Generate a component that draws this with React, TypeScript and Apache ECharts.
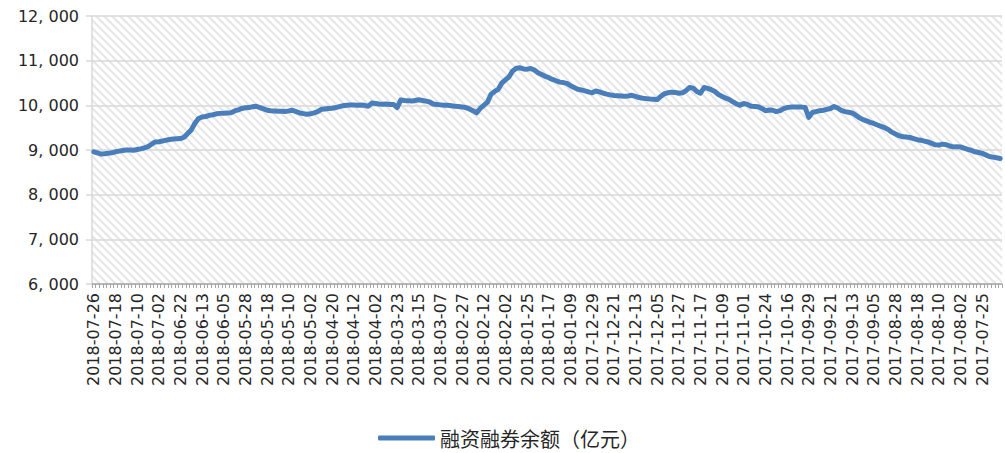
import React, { useEffect, useRef } from "react";
import * as echarts from "echarts";

// Trading dates, newest first (as shown left-to-right)
const dates: string[] = [
  "2018-07-26","2018-07-25","2018-07-24","2018-07-23","2018-07-20","2018-07-19","2018-07-18","2018-07-17","2018-07-16","2018-07-13",
  "2018-07-12","2018-07-11","2018-07-10","2018-07-09","2018-07-06","2018-07-05","2018-07-04","2018-07-03","2018-07-02",
  "2018-06-29","2018-06-28","2018-06-27","2018-06-26","2018-06-25","2018-06-22","2018-06-21","2018-06-20","2018-06-19","2018-06-15",
  "2018-06-14","2018-06-13","2018-06-12","2018-06-11","2018-06-08","2018-06-07","2018-06-06","2018-06-05","2018-06-04","2018-06-01",
  "2018-05-31","2018-05-30","2018-05-29","2018-05-28","2018-05-25","2018-05-24","2018-05-23","2018-05-22","2018-05-21","2018-05-18",
  "2018-05-17","2018-05-16","2018-05-15","2018-05-14","2018-05-11","2018-05-10","2018-05-09","2018-05-08","2018-05-07","2018-05-04",
  "2018-05-03","2018-05-02",
  "2018-04-27","2018-04-26","2018-04-25","2018-04-24","2018-04-23","2018-04-20","2018-04-19","2018-04-18","2018-04-17","2018-04-16",
  "2018-04-13","2018-04-12","2018-04-11","2018-04-10","2018-04-09","2018-04-04","2018-04-03","2018-04-02",
  "2018-03-30","2018-03-29","2018-03-28","2018-03-27","2018-03-26","2018-03-23","2018-03-22","2018-03-21","2018-03-20","2018-03-19",
  "2018-03-16","2018-03-15","2018-03-14","2018-03-13","2018-03-12","2018-03-09","2018-03-08","2018-03-07","2018-03-06","2018-03-05",
  "2018-03-02","2018-03-01",
  "2018-02-28","2018-02-27","2018-02-26","2018-02-23","2018-02-22","2018-02-14","2018-02-13","2018-02-12","2018-02-09","2018-02-08",
  "2018-02-07","2018-02-06","2018-02-05","2018-02-02","2018-02-01",
  "2018-01-31","2018-01-30","2018-01-29","2018-01-26","2018-01-25","2018-01-24","2018-01-23","2018-01-22","2018-01-19","2018-01-18",
  "2018-01-17","2018-01-16","2018-01-15","2018-01-12","2018-01-11","2018-01-10","2018-01-09","2018-01-08","2018-01-05","2018-01-04",
  "2018-01-03","2018-01-02",
  "2017-12-29","2017-12-28","2017-12-27","2017-12-26","2017-12-25","2017-12-22","2017-12-21","2017-12-20","2017-12-19","2017-12-18",
  "2017-12-15","2017-12-14","2017-12-13","2017-12-12","2017-12-11","2017-12-08","2017-12-07","2017-12-06","2017-12-05","2017-12-04",
  "2017-12-01",
  "2017-11-30","2017-11-29","2017-11-28","2017-11-27","2017-11-24","2017-11-23","2017-11-22","2017-11-21","2017-11-20","2017-11-17",
  "2017-11-16","2017-11-15","2017-11-14","2017-11-13","2017-11-10","2017-11-09","2017-11-08","2017-11-07","2017-11-06","2017-11-03",
  "2017-11-02","2017-11-01",
  "2017-10-31","2017-10-30","2017-10-27","2017-10-26","2017-10-25","2017-10-24","2017-10-23","2017-10-20","2017-10-19","2017-10-18",
  "2017-10-17","2017-10-16","2017-10-13","2017-10-12","2017-10-11","2017-10-10","2017-10-09",
  "2017-09-29","2017-09-28","2017-09-27","2017-09-26","2017-09-25","2017-09-22","2017-09-21","2017-09-20","2017-09-19","2017-09-18",
  "2017-09-15","2017-09-14","2017-09-13","2017-09-12","2017-09-11","2017-09-08","2017-09-07","2017-09-06","2017-09-05","2017-09-04",
  "2017-09-01",
  "2017-08-31","2017-08-30","2017-08-29","2017-08-28","2017-08-25","2017-08-24","2017-08-23","2017-08-22","2017-08-21","2017-08-18",
  "2017-08-17","2017-08-16","2017-08-15","2017-08-14","2017-08-11","2017-08-10","2017-08-09","2017-08-08","2017-08-07","2017-08-04",
  "2017-08-03","2017-08-02","2017-08-01",
  "2017-07-31","2017-07-28","2017-07-27","2017-07-26","2017-07-25","2017-07-24","2017-07-21","2017-07-20","2017-07-19","2017-07-18",
];

// 融资融券余额（亿元）, same order as dates
const balance: number[] = [
  8960, 8935, 8910, 8915, 8925, 8937, 8960, 8975, 8990, 9000,
  9000, 8995, 9010, 9025, 9050, 9075, 9130, 9180, 9185, 9200,
  9220, 9235, 9245, 9250, 9255, 9285, 9370, 9450, 9600, 9705,
  9740, 9750, 9775, 9790, 9810, 9820, 9825, 9830, 9835, 9875,
  9900, 9930, 9945, 9950, 9970, 9980, 9950, 9920, 9890, 9880,
  9875, 9870, 9865, 9860, 9875, 9890, 9860, 9830, 9815, 9800,
  9810, 9830, 9860, 9910, 9920, 9930, 9935, 9950, 9970, 9990,
  10000, 10005, 10005, 10000, 10005, 10000, 9980, 10050, 10040, 10030,
  10025, 10030, 10020, 10020, 9950, 10120, 10110, 10105, 10095, 10110,
  10125, 10110, 10095, 10075, 10030, 10020, 10010, 10000, 10000, 9990,
  9980, 9975, 9965, 9950, 9920, 9880, 9830, 9930, 10000, 10070,
  10250, 10310, 10360, 10500, 10570, 10640, 10770, 10830, 10840, 10815,
  10810, 10825, 10790, 10730, 10690, 10650, 10620, 10580, 10550, 10520,
  10510, 10490, 10440, 10400, 10360, 10345, 10325, 10300, 10280, 10320,
  10300, 10275, 10250, 10235, 10220, 10215, 10210, 10205, 10210, 10225,
  10200, 10175, 10160, 10150, 10140, 10135, 10130, 10200, 10260, 10280,
  10295, 10290, 10270, 10280, 10330, 10400, 10385, 10310, 10270, 10400,
  10380, 10350, 10310, 10240, 10200, 10160, 10130, 10080, 10030, 10000,
  10040, 10020, 9980, 9975, 9970, 9930, 9880, 9895, 9890, 9860,
  9880, 9925, 9950, 9960, 9965, 9965, 9960, 9950, 9730, 9840,
  9860, 9880, 9890, 9910, 9930, 9975, 9940, 9885, 9860, 9845,
  9830, 9780, 9720, 9680, 9650, 9620, 9595, 9560, 9530, 9500,
  9460, 9400, 9360, 9320, 9295, 9290, 9280, 9255, 9230, 9220,
  9200, 9180, 9150, 9115, 9110, 9130, 9120, 9090, 9070, 9075,
  9070, 9040, 9015, 8990, 8960, 8945, 8925, 8890, 8855, 8840,
  8825, 8810,
];

const seriesName = "融资融券余额（亿元）";
const yMin = 6000;
const yMax = 12000;
const yStep = 1000;

const hatchSvg =
  "<svg xmlns='http://www.w3.org/2000/svg' width='8' height='8'>" +
  "<rect width='8' height='8' fill='#ffffff'/>" +
  "<path d='M-2,-2L10,10M-2,6L2,10M6,-2L10,2' stroke='#e6e6e6' stroke-width='2'/>" +
  "</svg>";
const hatchUrl = "data:image/svg+xml;charset=utf-8," + encodeURIComponent(hatchSvg);

function fmtThousands(v: number): string {
  const th = Math.floor(v / 1000);
  const rest = String(v % 1000).padStart(3, "0");
  return `${th}, ${rest}`;
}

export default function App() {
  const ref = useRef<HTMLDivElement>(null);

  useEffect(() => {
    if (!ref.current) return;
    const chart = echarts.init(ref.current, null, { renderer: "svg" });
    chart.setOption({
      animation: false,
      backgroundColor: "#ffffff",
      grid: {
        left: 92,
        right: 3,
        top: 16,
        bottom: 169,
        show: true,
        borderWidth: 0,
        backgroundColor: {
          image: hatchUrl,
          repeat: "repeat",
          imageWidth: 8,
          imageHeight: 8,
        },
      },
      legend: {
        left: 378,
        top: 428,
        padding: 0,
        itemWidth: 57,
        itemHeight: 5,
        itemGap: 10,
        icon: "roundRect",
        data: [{ name: seriesName }],
        textStyle: {
          fontFamily: "Noto Sans CJK SC",
          fontSize: 20,
          color: "#262626",
        },
      },
      xAxis: {
        type: "category",
        data: dates,
        boundaryGap: true,
        axisLine: { show: true, lineStyle: { color: "#a6a6a6", width: 1.5 } },
        axisTick: {
          show: true,
          interval: 0,
          length: 4,
          lineStyle: { color: "#a6a6a6", width: 1 },
        },
        axisLabel: {
          interval: 5,
          rotate: 90,
          margin: 9,
          fontFamily: "DejaVu Sans",
          fontSize: 16,
          color: "#262626",
        },
        splitLine: { show: false },
      },
      yAxis: {
        type: "value",
        min: yMin,
        max: yMax,
        interval: yStep,
        axisLine: { show: true, lineStyle: { color: "#d9d9d9", width: 1.5 } },
        axisTick: { show: true, length: 6, lineStyle: { color: "#d9d9d9", width: 1.5 } },
        axisLabel: {
          margin: 13,
          fontFamily: "DejaVu Sans",
          fontSize: 16,
          color: "#262626",
          formatter: (v: number) => fmtThousands(v),
        },
        splitLine: { show: true, lineStyle: { color: "#d9d9d9", width: 1.5 } },
      },
      series: [
        {
          name: seriesName,
          type: "line",
          data: balance,
          symbol: "none",
          showSymbol: false,
          itemStyle: { color: "#4a7ebb" },
          lineStyle: { color: "#4a7ebb", width: 5, cap: "round", join: "round" },
        },
      ],
    });
    return () => chart.dispose();
  }, []);

  return (
    <div
      ref={ref}
      style={{ position: "fixed", left: 0, top: 0, width: 1005, height: 453, background: "#ffffff" }}
    />
  );
}
